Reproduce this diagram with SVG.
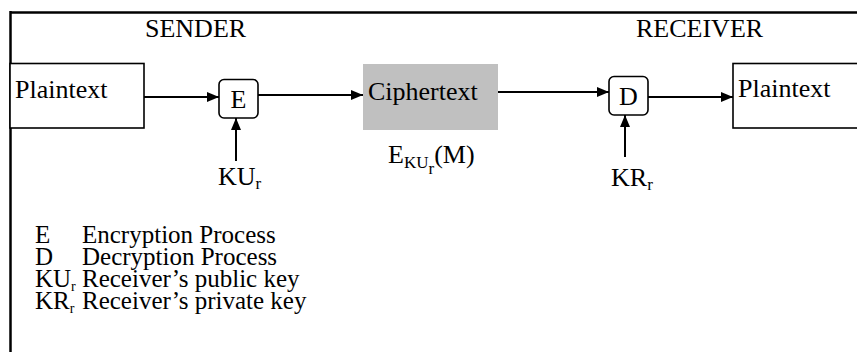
<svg xmlns="http://www.w3.org/2000/svg" width="857" height="352" viewBox="0 0 857 352">
  <style>
    text { font-family: "Liberation Serif", "Times New Roman", serif; font-size: 26px; fill: #000; }
    .sub { font-size: 17px; }
    .legend text { font-size: 25px; }
    .legend .sub { font-size: 14px; }
    .box { fill: #fff; stroke: #000; stroke-width: 1.6; }
    .op { fill: #fff; stroke: #000; stroke-width: 1.6; }
    .conn { stroke: #000; stroke-width: 2; fill: none; marker-end: url(#arrow); }
  </style>
  <defs>
    <marker id="arrow" viewBox="0 0 12 10" refX="12" refY="5" markerWidth="12" markerHeight="10" markerUnits="userSpaceOnUse" orient="auto">
      <path d="M0,0 L12,5 L0,10 z" fill="#000"/>
    </marker>
  </defs>

  <rect width="857" height="352" fill="#fff"/>

  <!-- outer frame: top and left edges -->
  <g id="frame">
    <line x1="10" y1="12.5" x2="857" y2="12.5" stroke="#000" stroke-width="2.5"/>
    <line x1="10.5" y1="11" x2="10.5" y2="352" stroke="#000" stroke-width="2.5"/>
  </g>

  <g id="sender-label"><text x="145" y="37">SENDER</text></g>
  <g id="receiver-label"><text x="636" y="37">RECEIVER</text></g>

  <g id="plaintext-in">
    <rect class="box" x="10" y="63.5" width="134" height="64.5"/>
    <text x="15" y="98">Plaintext</text>
  </g>

  <g id="encrypt">
    <rect class="op" x="219" y="79.5" width="39" height="38.5" rx="5"/>
    <text x="238.5" y="108" text-anchor="middle">E</text>
  </g>

  <g id="ciphertext">
    <rect x="363" y="64" width="135" height="66" fill="#c0c0c0"/>
    <text x="368" y="100">Ciphertext</text>
  </g>

  <g id="decrypt">
    <rect class="op" x="609" y="76.5" width="39" height="38.5" rx="5"/>
    <text x="628.5" y="105" text-anchor="middle">D</text>
  </g>

  <g id="plaintext-out">
    <rect class="box" x="733" y="63.5" width="130" height="64.5"/>
    <text x="738" y="97">Plaintext</text>
  </g>

  <g id="key-ku">
    <text x="218" y="185">KU<tspan class="sub" dy="4">r</tspan></text>
  </g>

  <g id="key-kr">
    <text x="611" y="186">KR<tspan class="sub" dy="4">r</tspan></text>
  </g>

  <g id="cipher-formula">
    <text x="388" y="163">E<tspan class="sub" dy="5">KU</tspan><tspan class="sub" dy="6">r</tspan><tspan dy="-11">(M)</tspan></text>
  </g>

  <g id="connectors">
    <line class="conn" x1="144" y1="97" x2="219" y2="97"/>
    <line class="conn" x1="258" y1="95" x2="363" y2="95"/>
    <line class="conn" x1="498" y1="92" x2="609" y2="92"/>
    <line class="conn" x1="648" y1="97" x2="733" y2="97"/>
    <line class="conn" x1="236" y1="161" x2="236" y2="118"/>
    <line class="conn" x1="625" y1="157" x2="625" y2="115"/>
  </g>

  <g id="legend" class="legend">
    <text x="35" y="243">E</text>
    <text x="82" y="243">Encryption Process</text>
    <text x="35" y="265">D</text>
    <text x="82" y="265">Decryption Process</text>
    <text x="35" y="287">KU<tspan class="sub" dy="4">r</tspan></text>
    <text x="82" y="287">Receiver’s public key</text>
    <text x="35" y="309">KR<tspan class="sub" dy="4">r</tspan></text>
    <text x="82" y="309">Receiver’s private key</text>
  </g>
</svg>
